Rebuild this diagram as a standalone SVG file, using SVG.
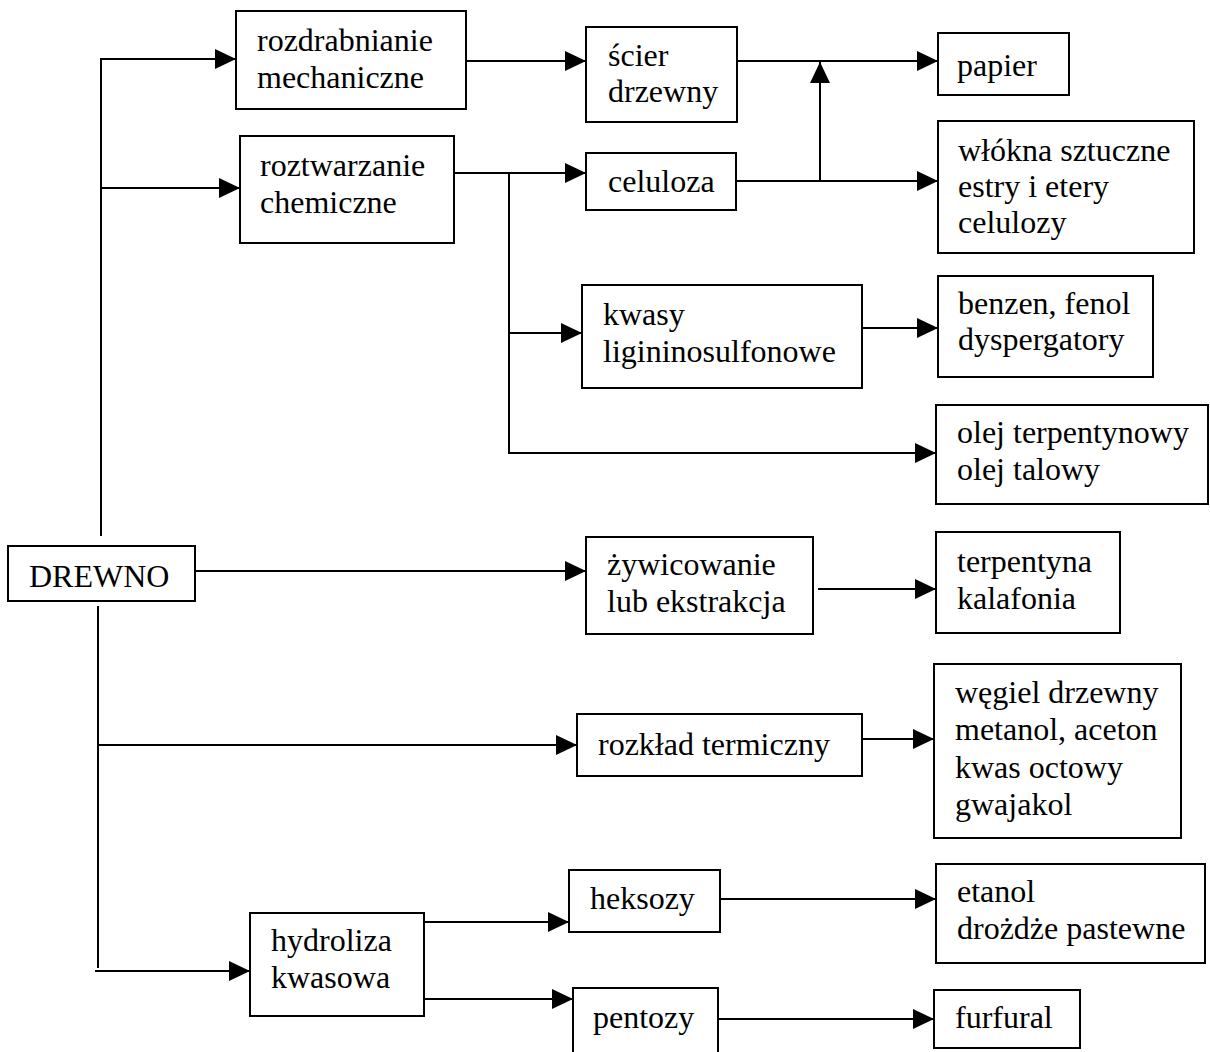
<svg xmlns="http://www.w3.org/2000/svg" width="1210" height="1052" viewBox="0 0 1210 1052">
  <style>
    .box { fill: #ffffff; stroke: #000000; stroke-width: 2; }
    .lbl { font-family: "Liberation Serif", "Times New Roman", serif; font-size: 32px; fill: #000000; }
    .wire { fill: none; stroke: #000000; stroke-width: 2; }
    .arr { marker-end: url(#head); }
  </style>
  <defs>
    <marker id="head" markerUnits="userSpaceOnUse" markerWidth="21" markerHeight="20" refX="21" refY="10" orient="auto">
      <path d="M0,0 L21,10 L0,20 Z" fill="#000000"/>
    </marker>
  </defs>
  <rect width="1210" height="1052" fill="#ffffff"/>

  <!-- connectors -->
  <g id="connectors">
    <path class="wire" d="M101,536 V59"/>
    <path class="wire arr" d="M100,59 H236"/>
    <path class="wire arr" d="M101,188 H240"/>
    <path class="wire arr" d="M466,61 H586"/>
    <path class="wire arr" d="M737,61 H938"/>
    <path class="wire arr" d="M736,181 H938"/>
    <path class="wire arr" d="M820,181 V62"/>
    <path class="wire arr" d="M454,173 H586"/>
    <path class="wire arr" d="M509,173 V453 H936"/>
    <path class="wire arr" d="M509,333 H582"/>
    <path class="wire arr" d="M858,328 H938"/>
    <path class="wire arr" d="M195,571 H586"/>
    <path class="wire arr" d="M818,589 H936"/>
    <path class="wire" d="M98,606 V968"/>
    <path class="wire arr" d="M98,745 H577"/>
    <path class="wire arr" d="M862,739 H934"/>
    <path class="wire arr" d="M95,971 H250"/>
    <path class="wire arr" d="M424,922 H569"/>
    <path class="wire arr" d="M424,999 H573"/>
    <path class="wire arr" d="M719,899 H936"/>
    <path class="wire arr" d="M719,1019 H934"/>
  </g>

  <!-- nodes -->
  <g id="drewno">
    <rect class="box" x="8" y="546" width="187" height="55"/>
    <text class="lbl" x="29" y="587">DREWNO</text>
  </g>
  <g id="rozdrabnianie">
    <rect class="box" x="236" y="11" width="230" height="98"/>
    <text class="lbl" y="51"><tspan x="257">rozdrabnianie</tspan><tspan x="257" dy="37">mechaniczne</tspan></text>
  </g>
  <g id="roztwarzanie">
    <rect class="box" x="240" y="136" width="214" height="107"/>
    <text class="lbl" y="176"><tspan x="260">roztwarzanie</tspan><tspan x="260" dy="37">chemiczne</tspan></text>
  </g>
  <g id="scier">
    <rect class="box" x="586" y="27" width="151" height="95"/>
    <text class="lbl" y="66"><tspan x="608">ścier</tspan><tspan x="608" dy="36">drzewny</tspan></text>
  </g>
  <g id="celuloza">
    <rect class="box" x="586" y="153" width="150" height="57"/>
    <text class="lbl" x="608" y="192">celuloza</text>
  </g>
  <g id="papier">
    <rect class="box" x="938" y="33" width="131" height="62"/>
    <text class="lbl" x="957" y="76">papier</text>
  </g>
  <g id="wlokna">
    <rect class="box" x="938" y="121" width="256" height="132"/>
    <text class="lbl" y="161"><tspan x="958">włókna sztuczne</tspan><tspan x="958" dy="36">estry i etery</tspan><tspan x="958" dy="36">celulozy</tspan></text>
  </g>
  <g id="kwasy">
    <rect class="box" x="582" y="285" width="280" height="103"/>
    <text class="lbl" y="325"><tspan x="603">kwasy</tspan><tspan x="603" dy="37">ligininosulfonowe</tspan></text>
  </g>
  <g id="benzen">
    <rect class="box" x="938" y="276" width="215" height="101"/>
    <text class="lbl" y="314"><tspan x="958">benzen, fenol</tspan><tspan x="958" dy="36">dyspergatory</tspan></text>
  </g>
  <g id="olej">
    <rect class="box" x="936" y="405" width="272" height="99"/>
    <text class="lbl" y="443"><tspan x="957">olej terpentynowy</tspan><tspan x="957" dy="37">olej talowy</tspan></text>
  </g>
  <g id="zywicowanie">
    <rect class="box" x="586" y="537" width="227" height="97"/>
    <text class="lbl" y="575"><tspan x="607">żywicowanie</tspan><tspan x="607" dy="37">lub ekstrakcja</tspan></text>
  </g>
  <g id="terpentyna">
    <rect class="box" x="936" y="532" width="184" height="101"/>
    <text class="lbl" y="572"><tspan x="957">terpentyna</tspan><tspan x="957" dy="37">kalafonia</tspan></text>
  </g>
  <g id="rozklad">
    <rect class="box" x="577" y="714" width="285" height="62"/>
    <text class="lbl" x="598" y="755">rozkład termiczny</text>
  </g>
  <g id="wegiel">
    <rect class="box" x="934" y="664" width="247" height="174"/>
    <text class="lbl" y="703"><tspan x="955">węgiel drzewny</tspan><tspan x="955" dy="37">metanol, aceton</tspan><tspan x="955" dy="38">kwas octowy</tspan><tspan x="955" dy="37">gwajakol</tspan></text>
  </g>
  <g id="hydroliza">
    <rect class="box" x="250" y="913" width="174" height="103"/>
    <text class="lbl" y="951"><tspan x="271">hydroliza</tspan><tspan x="271" dy="37">kwasowa</tspan></text>
  </g>
  <g id="heksozy">
    <rect class="box" x="569" y="870" width="151" height="62"/>
    <text class="lbl" x="590" y="909">heksozy</text>
  </g>
  <g id="etanol">
    <rect class="box" x="936" y="864" width="269" height="99"/>
    <text class="lbl" y="902"><tspan x="957">etanol</tspan><tspan x="957" dy="37">drożdże pastewne</tspan></text>
  </g>
  <g id="pentozy">
    <rect class="box" x="573" y="988" width="145" height="70"/>
    <text class="lbl" x="593" y="1028">pentozy</text>
  </g>
  <g id="furfural">
    <rect class="box" x="934" y="990" width="146" height="58"/>
    <text class="lbl" x="955" y="1028">furfural</text>
  </g>
</svg>
